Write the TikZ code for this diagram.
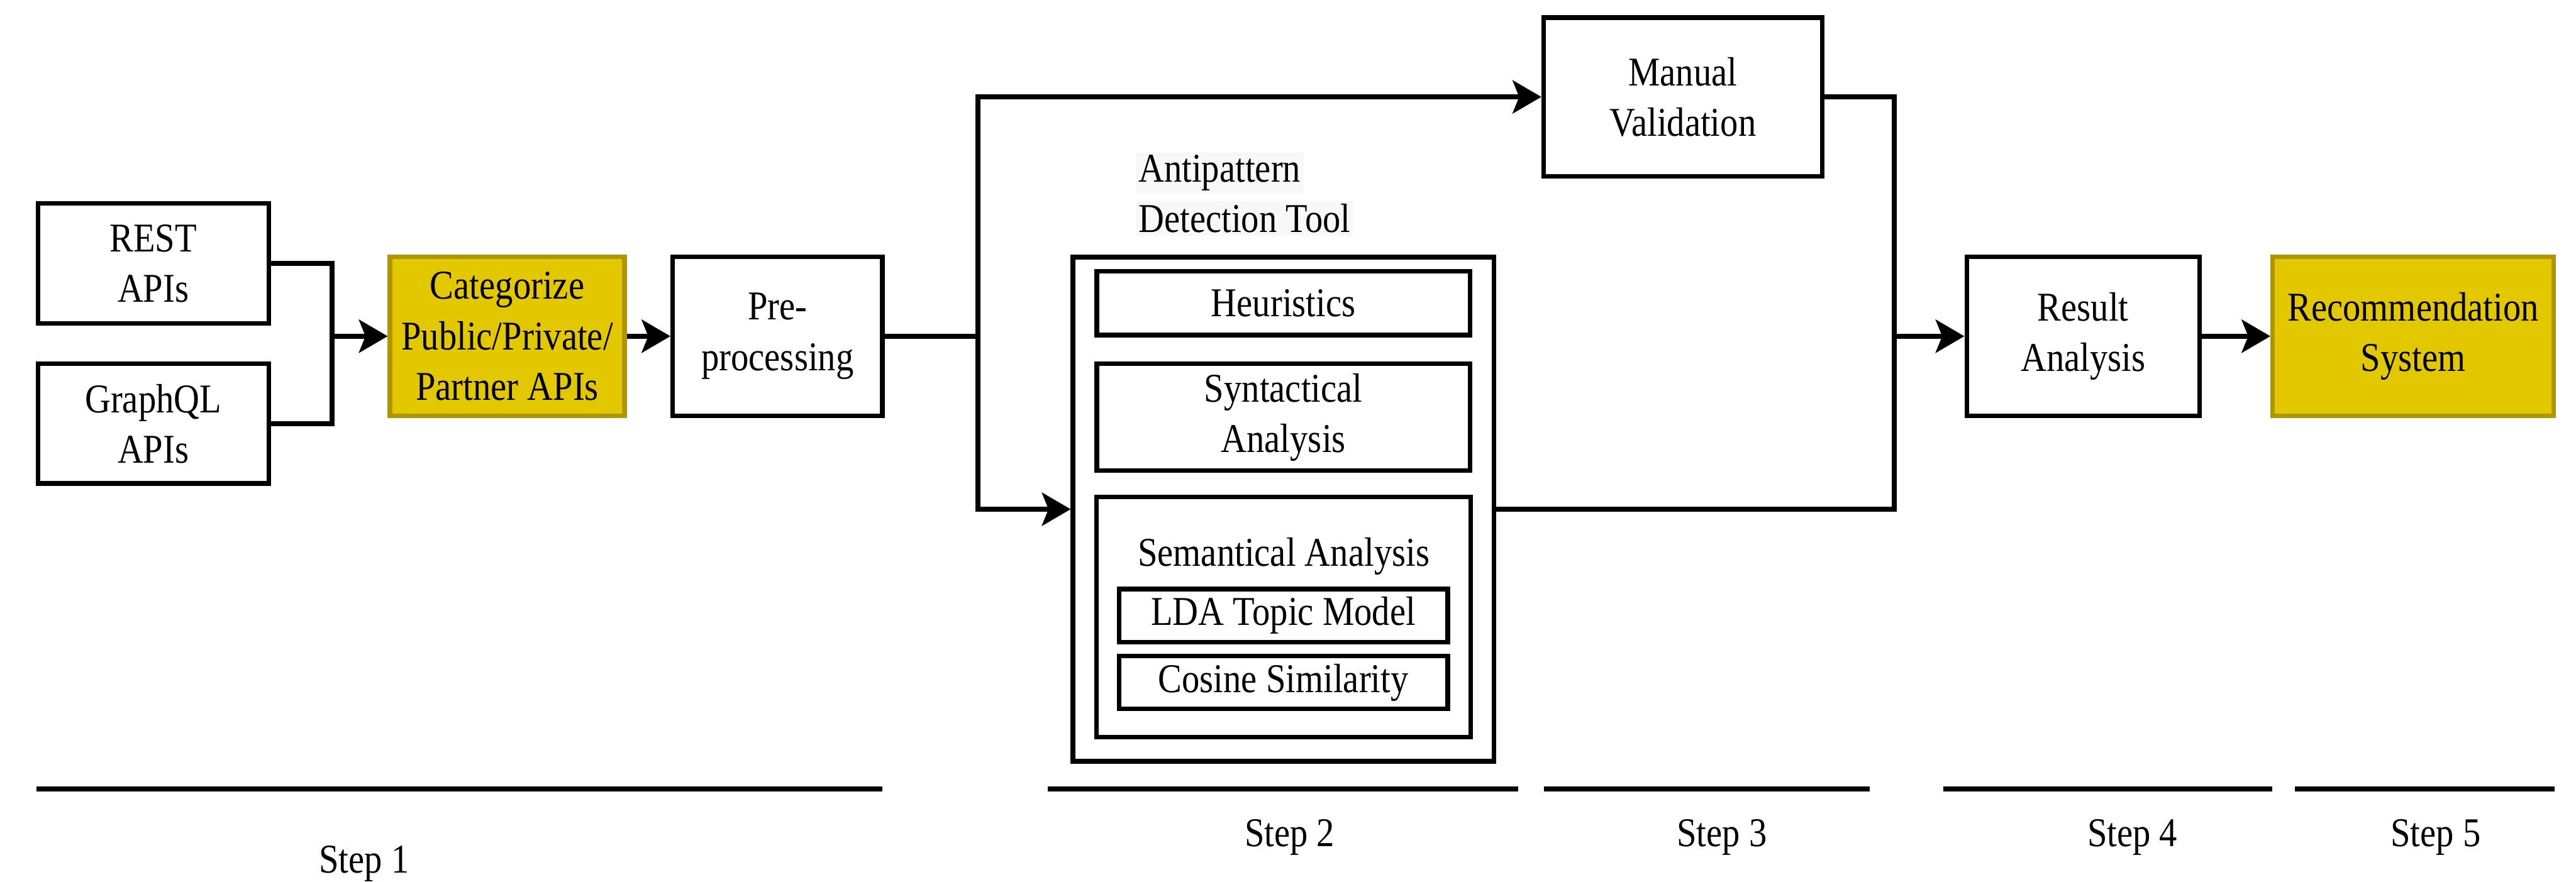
\documentclass[tikz,border=0pt]{standalone}
\usepackage{fontspec}
\setmainfont[FakeStretch=0.87]{Liberation Serif}
\usetikzlibrary{arrows.meta}

\definecolor{apiyellow}{HTML}{E3C800}
\definecolor{apiyellowline}{HTML}{B09500}
\definecolor{labelbg}{HTML}{F8F8F8}

\begin{document}
\begin{tikzpicture}[
    every node/.style={font=\fontsize{21.5pt}{26.5pt}\selectfont},
    box/.style={draw, line width=2.4pt, align=center, inner sep=2pt},
    hbox/.style={box, draw=apiyellowline, fill=apiyellow},
    flow/.style={line width=2.6pt},
    arr/.style={flow, -{Stealth[length=5.3mm, width=6.1mm, inset=1.2mm]}},
    stepline/.style={line width=2.8pt}
  ]
    \useasboundingbox (0,0) rectangle (47.56,-16.29);

    % Input APIs
    \node[box, minimum width=4.26cm, minimum height=2.21cm] (rest) at (2.83,-4.865) {REST\\APIs};
    \node[box, minimum width=4.26cm, minimum height=2.21cm] (graphql) at (2.83,-7.825) {GraphQL\\APIs};

    % Step 1
    \node[hbox, minimum width=4.33cm, minimum height=2.94cm] (categ) at (9.365,-6.21) {Categorize\\Public/Private/\\Partner APIs};
    \node[box, minimum width=3.87cm, minimum height=2.94cm] (preproc) at (14.355,-6.21) {Pre-\\processing};

    % Antipattern detection tool
    \node[anchor=north west, inner sep=0pt, align=left] (tooltitle) at (20.96,-2.80)
        {\setlength{\fboxsep}{1.5pt}\colorbox{labelbg}{Antipattern}\\
         \setlength{\fboxsep}{1.5pt}\colorbox{labelbg}{Detection Tool}};
    \node[box, minimum width=7.77cm, minimum height=9.31cm] (tool) at (23.695,-9.405) {};
    \node[box, minimum width=6.89cm, minimum height=1.18cm] (heur) at (23.695,-5.60) {Heuristics};
    \node[box, minimum width=6.89cm, minimum height=1.97cm] (synt) at (23.695,-7.705) {Syntactical\\Analysis};
    \node[box, minimum width=6.91cm, minimum height=4.43cm] (sem) at (23.695,-11.395) {};
    \node[anchor=base] (semtext) at (23.70,-10.46) {Semantical Analysis};
    \node[box, minimum width=6.07cm, minimum height=0.98cm] (lda) at (23.695,-11.37) {LDA Topic Model};
    \node[box, minimum width=6.07cm, minimum height=0.97cm] (cosine) at (23.695,-12.605) {Cosine Similarity};

    % Step 3
    \node[box, minimum width=5.14cm, minimum height=2.93cm] (manual) at (31.07,-1.79) {Manual\\Validation};

    % Steps 4 and 5
    \node[box, minimum width=4.30cm, minimum height=2.94cm] (result) at (38.46,-6.21) {Result\\Analysis};
    \node[hbox, minimum width=5.19cm, minimum height=2.94cm] (recomm) at (44.555,-6.21) {Recommendation\\System};

    % Connectors
    \coordinate (join) at (6.13,-6.21);
    \draw[flow] (rest.east) -| (join) |- (graphql.east);
    \draw[arr] (join) -- (categ.west);
    \draw[arr] (categ.east) -- (preproc.west);

    \coordinate (split) at (18.06,-6.21);
    \draw[flow] (preproc.east) -- (split);
    \draw[arr] (split) |- (manual.west);
    \draw[arr] (split) |- (tool.west);

    \coordinate (merge) at (34.97,-6.21);
    \draw[flow] (manual.east) -| (merge);
    \draw[flow] (tool.east) -| (merge);
    \draw[arr] (merge) -- (result.west);
    \draw[arr] (result.east) -- (recomm.west);

    % Step bars
    \foreach \a/\b/\x/\y/\n in {0.67/16.29/6.72/-16.12/1, 19.35/28.03/23.81/-15.63/2,
                                28.51/34.52/31.79/-15.63/3, 35.88/41.95/39.37/-15.63/4,
                                42.37/47.16/44.97/-15.63/5} {
        \draw[stepline] (\a,-14.57) -- (\b,-14.57);
        \node[anchor=base] (step\n) at (\x,\y) {Step \n};
    }
\end{tikzpicture}
\end{document}
